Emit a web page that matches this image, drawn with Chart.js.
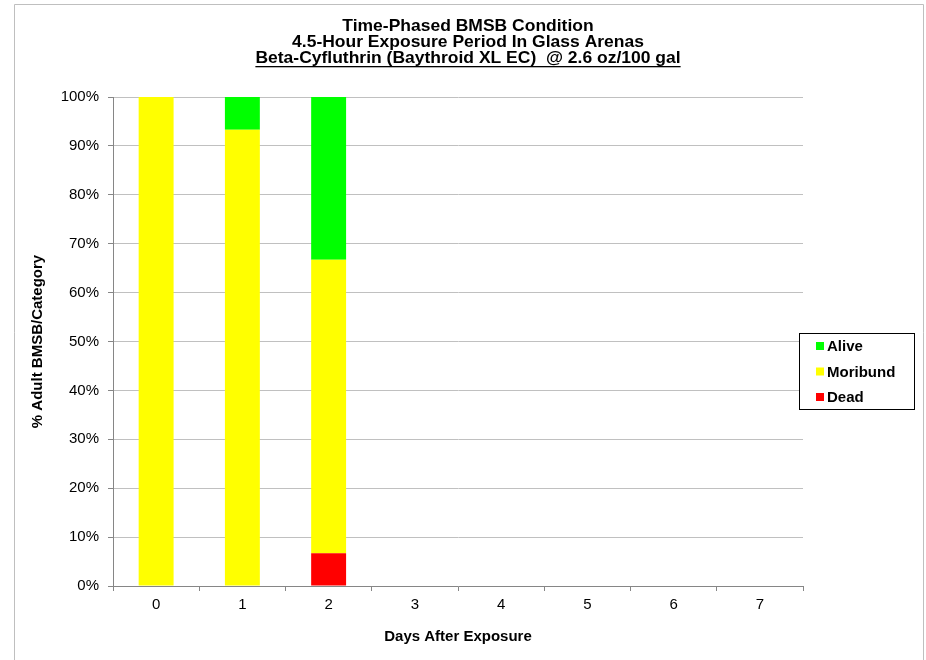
<!DOCTYPE html>
<html>
<head>
<meta charset="utf-8">
<script src="https://cdn.jsdelivr.net/npm/chart.js@4"></script>
<style>
  body{margin:0;background:#fff;}
  #wrap{width:926px;height:660px;position:relative;}
</style>
</head>
<body>
<div id="wrap"><canvas id="bmsbChart" width="926" height="660"></canvas></div>
<script>
const days = ["0","1","2","3","4","5","6","7"];
const dead     = [0, 0, 6.7, null, null, null, null, null];
const moribund = [100, 93.3, 60, null, null, null, null, null];
const alive    = [0, 6.7, 33.3, null, null, null, null, null];
const yTicks = [0,10,20,30,40,50,60,70,80,90,100];

const titleLines = [
  "Time-Phased BMSB Condition",
  "4.5-Hour Exposure Period In Glass Arenas",
  "Beta-Cyfluthrin (Baythroid XL EC)  @ 2.6 oz/100 gal"
];
const FONT = "'Liberation Sans', Arial, sans-serif";

// titles, frame and legend box drawn by hand
const decor = {
  id:'decor',
  afterDraw(chart){
    const c = chart.ctx, a = chart.chartArea;
    c.save();
    // outer frame
    c.strokeStyle = '#bfbfbf';
    c.lineWidth = 1;
    c.beginPath();
    c.moveTo(14.5, 665); c.lineTo(14.5, 4.5); c.lineTo(923.5, 4.5); c.lineTo(923.5, 665);
    c.stroke();

    // title
    c.fillStyle = '#000';
    c.font = 'bold 16.5px ' + FONT;
    c.textAlign = 'center';
    c.textBaseline = 'middle';
    const tx = 468;
    titleLines.forEach((t,i)=>{
      const y = 26 + i*16;
      c.save();
      c.translate(tx, y);
      c.scale(1.06, 1);
      c.fillText(t, 0, 0);
      if(i === 2){
        const w = c.measureText(t).width;
        c.fillRect(-w/2, 8, w, 1.3);
      }
      c.restore();
    });

    // axis titles
    c.font = 'bold 15px ' + FONT;
    c.fillText("Days After Exposure", (a.left + a.right)/2, 637);
    c.save();
    c.translate(38, (a.top + a.bottom)/2);
    c.rotate(-Math.PI/2);
    c.fillText("% Adult BMSB/Category", 0, 0);
    c.restore();

    // legend
    const lx = 799.5, ly = 333.5, lw = 115, lh = 76;
    c.fillStyle = '#fff';
    c.fillRect(lx, ly, lw, lh);
    c.strokeStyle = '#000';
    c.strokeRect(lx, ly, lw, lh);
    const items = chart.data.datasets.slice().reverse();
    c.font = 'bold 15px ' + FONT;
    c.textAlign = 'left';
    items.forEach((d,i)=>{
      const y = 346 + i*25.5;
      c.fillStyle = d.backgroundColor;
      c.fillRect(816, y - 4, 8, 8);
      c.fillStyle = '#000';
      c.fillText(d.label, 827, y + 1);
    });
    c.restore();
  }
};

new Chart(document.getElementById('bmsbChart'), {
  type:'bar',
  data:{
    labels: days,
    datasets:[
      {label:'Dead', data:dead, backgroundColor:'#ff0000'},
      {label:'Moribund', data:moribund, backgroundColor:'#ffff00'},
      {label:'Alive', data:alive, backgroundColor:'#00ff00'}
    ]
  },
  options:{
    responsive:false,
    animation:false,
    layout:{padding:{left:0, right:123, top:97, bottom:0}},
    datasets:{bar:{categoryPercentage:1, barPercentage:0.405, borderWidth:0}},
    plugins:{legend:{display:false}, tooltip:{enabled:false}, title:{display:false}},
    scales:{
      x:{
        stacked:true,
        afterFit(s){ s.height = 74; },
        grid:{offset:true, drawOnChartArea:false, color:'#868686', tickLength:5},
        border:{color:'#868686'},
        ticks:{color:'#000', font:{family:FONT, size:15}, padding:5}
      },
      y:{
        stacked:true,
        min:0, max:100,
        afterFit(s){ s.width = 113; },
        afterBuildTicks(s){ s.ticks = yTicks.map(v=>({value:v})); },
        grid:{color:'#c0c0c0', tickColor:'#868686', tickLength:5},
        border:{color:'#868686'},
        ticks:{color:'#000', font:{family:FONT, size:15}, padding:9, callback:v=>v+'%'}
      }
    }
  },
  plugins:[decor]
});
</script>
</body>
</html>
